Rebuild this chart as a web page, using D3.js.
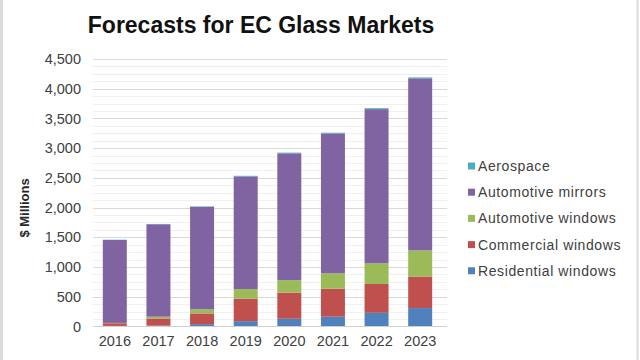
<!DOCTYPE html>
<html><head><meta charset="utf-8">
<script src="https://cdn.jsdelivr.net/npm/d3@7"></script>
<style>body{margin:0;background:#fff}svg{display:block;font-family:"Liberation Sans",Arial,sans-serif}</style>
</head><body>
<script>
const years = ["2016","2017","2018","2019","2020","2021","2022","2023"];
const seriesNames = ["Residential windows","Commercial windows","Automotive windows","Automotive mirrors","Aerospace"];
const residential = [10, 15, 40, 90, 130, 165, 230, 310];
const commercial = [45, 120, 180, 380, 440, 470, 485, 530];
const autoWindows = [5, 30, 70, 160, 210, 260, 350, 440];
const autoMirrors = [1395, 1555, 1722, 1895, 2133, 2353, 2592, 2895];
const aerospace = [5, 5, 8, 10, 12, 12, 15, 15];
const colors = ["#4f81bd","#c0504d","#9bbb59","#8064a2","#4bacc6"];
const yTicks = [0,500,1000,1500,2000,2500,3000,3500,4000,4500];

const W = 640, H = 360;
const svg = d3.select("body").append("svg").attr("width", W).attr("height", H);

// frame
svg.append("line").attr("x1",1.5).attr("x2",1.5).attr("y1",0).attr("y2",H).attr("stroke","#dcdcdc").attr("stroke-width",3);
svg.append("line").attr("x1",637.5).attr("x2",637.5).attr("y1",0).attr("y2",H).attr("stroke","#dcdcdc").attr("stroke-width",2);

const x = d3.scaleBand().domain(years).range([93, 442]).paddingInner(0.45).paddingOuter(0.225);
const y = d3.scaleLinear().domain([0, 4500]).range([326.5, 59]);

// minor gridlines
const minor = d3.range(125, 4500, 125).filter(v => v % 500 !== 0);
svg.append("g").selectAll("line").data(minor).join("line")
  .attr("x1", 93).attr("x2", 447).attr("y1", d => Math.round(y(d))+0.5).attr("y2", d => Math.round(y(d))+0.5)
  .attr("stroke", "#f0f0f0").attr("stroke-width", 1);
// major gridlines
svg.append("g").selectAll("line").data(yTicks.slice(1)).join("line")
  .attr("x1", 93).attr("x2", 447).attr("y1", d => Math.round(y(d))+0.5).attr("y2", d => Math.round(y(d))+0.5)
  .attr("stroke", "#d9d9d9").attr("stroke-width", 1);

// stacked data
const table = years.map((yr, i) => ({
  year: yr,
  "Residential windows": residential[i],
  "Commercial windows": commercial[i],
  "Automotive windows": autoWindows[i],
  "Automotive mirrors": autoMirrors[i],
  "Aerospace": aerospace[i]
}));
const stacked = d3.stack().keys(seriesNames)(table);
svg.append("g").selectAll("g").data(stacked).join("g")
  .attr("fill", (d, i) => colors[i])
  .selectAll("rect").data(d => d).join("rect")
  .attr("x", d => x(d.data.year))
  .attr("width", x.bandwidth())
  .attr("y", d => y(d[1]))
  .attr("height", d => y(d[0]) - y(d[1]));

// x axis
const xAxis = d3.axisBottom(x).tickSize(0).tickPadding(9);
const gx = svg.append("g").attr("transform", "translate(0,326.5)").call(xAxis);
gx.select(".domain").remove();
gx.selectAll("text").attr("font-size", 14.5).attr("fill", "#404040").attr("font-family", '"Liberation Sans",Arial,sans-serif');
svg.append("line").attr("x1", 93).attr("x2", 447).attr("y1", 326.5).attr("y2", 326.5).attr("stroke", "#d0d0d0");

// y axis
const yAxis = d3.axisLeft(y).tickValues(yTicks).tickSize(0).tickPadding(0).tickFormat(d3.format(","));
const gy = svg.append("g").attr("transform", "translate(81,0)").call(yAxis);
gy.select(".domain").remove();
gy.selectAll("text").attr("font-size", 14.5).attr("fill", "#404040").attr("font-family", '"Liberation Sans",Arial,sans-serif');

svg.append("text").attr("transform", "translate(29,208) rotate(-90)")
  .attr("text-anchor", "middle").attr("font-size", 13).attr("font-weight", "bold").attr("fill", "#262626")
  .text("$ Millions");

// title
svg.append("text").attr("x", 261).attr("y", 33).attr("text-anchor", "middle")
  .attr("font-size", 23).attr("font-weight", "bold").attr("fill", "#111")
  .text("Forecasts for EC Glass Markets");

// legend (reverse order)
const legendItems = seriesNames.map((n, i) => ({name: n, color: colors[i]})).reverse();
const lg = svg.append("g").selectAll("g").data(legendItems).join("g")
  .attr("transform", (d, i) => `translate(468,${166 + i * 26.2})`);
lg.append("rect").attr("x", 0).attr("y", -3.5).attr("width", 7).attr("height", 7).attr("fill", d => d.color);
lg.append("text").attr("x", 10).attr("y", 0).attr("dy", "0.35em").attr("font-size", 14).attr("letter-spacing", 0.6).attr("fill", "#404040")
  .text(d => d.name);
</script>
</body></html>
